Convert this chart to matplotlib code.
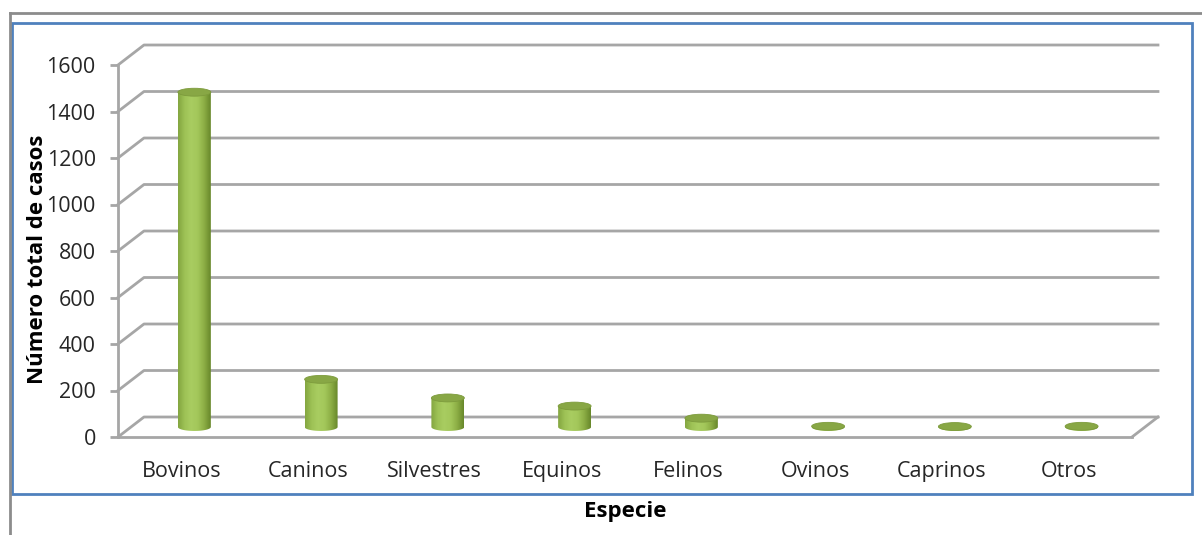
import matplotlib
matplotlib.use('Agg')
import matplotlib.pyplot as plt
import numpy as np
from matplotlib.colors import LinearSegmentedColormap
from matplotlib.lines import Line2D
from matplotlib.patches import Ellipse, PathPatch, Rectangle
from matplotlib.path import Path

plt.rcParams['font.family'] = ['Open Sans', 'DejaVu Sans']

# cases per species
especies = ['Bovinos', 'Caninos', 'Silvestres', 'Equinos', 'Felinos',
            'Ovinos', 'Caprinos', 'Otros']
casos = [1440, 205, 125, 90, 38, 3, 2, 3]
y_ticks = [0, 200, 400, 600, 800, 1000, 1200, 1400, 1600]

# fake 3d depth of the chart box, in data units
depth_x = 0.205
depth_y = 86
cyl_w = 0.26
cyl_eh = 34

grid_col = '#a6a6a6'
green = LinearSegmentedColormap.from_list(
    'cyl', ['#84a640', '#9ec256', '#a9cd61', '#a3c75a', '#8cae45', '#68882b'])

fig = plt.figure(figsize=(12.02, 5.35), dpi=100)
W, H = 1202, 535

# chart and plot-area frames
fig.add_artist(Line2D([10 / W, 1], [1 - 13 / H, 1 - 13 / H],
                      color='#8c8c8c', lw=2))
fig.add_artist(Line2D([10 / W, 10 / W], [0, 1 - 13 / H],
                      color='#8c8c8c', lw=2))
fig.add_artist(Rectangle((12 / W, 1 - 494 / H), 1180 / W, 471 / H,
                         transform=fig.transFigure, fill=False,
                         ec='#4f81bd', lw=2))

ax = fig.add_axes([118 / W, 98 / H, 1014 / W, 372 / H])
ax.set_xlim(-0.5, len(especies) - 0.5)
ax.set_ylim(0, 1600)
ax.patch.set_visible(False)

# back wall gridlines with the diagonal going to the front axis
x0, x1 = -0.5, len(especies) - 0.5
for v in y_ticks:
    ax.plot([x0, x0 + depth_x, x1 + depth_x], [v, v + depth_y, v + depth_y],
            color=grid_col, lw=2, clip_on=False, zorder=1)
# floor right edge
ax.plot([x1, x1 + depth_x], [0, depth_y], color=grid_col, lw=2,
        clip_on=False, zorder=1)

for sp in ['top', 'right']:
    ax.spines[sp].set_visible(False)
for sp in ['left', 'bottom']:
    ax.spines[sp].set_color(grid_col)
    ax.spines[sp].set_linewidth(2)
    ax.spines[sp].set_zorder(2)

ax.set_yticks(y_ticks)
ax.set_yticklabels([str(v) for v in y_ticks])
ax.tick_params(axis='y', length=6, width=2, color=grid_col, pad=10,
               labelsize=15.5, labelcolor='#262626')
ax.set_xticks(range(len(especies)))
ax.set_xticklabels(especies)
ax.tick_params(axis='x', length=0, pad=17, labelsize=15.5,
               labelcolor='#262626')

# cylinders
grad = np.linspace(0, 1, 64).reshape(1, -1)
base = depth_y / 2
for i, v in enumerate(casos):
    xc = i + depth_x / 2
    xl, xr = xc - cyl_w / 2, xc + cyl_w / 2
    top = base + v
    th = np.linspace(np.pi, 2 * np.pi, 40)
    verts = [(xl, top)]
    verts += list(zip(xc + cyl_w / 2 * np.cos(th),
                      base + cyl_eh / 2 * np.sin(th)))
    verts += [(xr, top), (xl, top)]
    codes = [Path.MOVETO] + [Path.LINETO] * (len(verts) - 2) + [Path.CLOSEPOLY]
    body = PathPatch(Path(verts, codes), fc='none', ec='none',
                     transform=ax.transData)
    ax.add_patch(body)
    im = ax.imshow(grad, extent=[xl, xr, base - cyl_eh, top], cmap=green,
                   aspect='auto', zorder=3, interpolation='bilinear')
    im.set_clip_path(body)
    ax.add_patch(Ellipse((xc, top), cyl_w, cyl_eh, fc='#88a745',
                         ec='#7d9b3c', lw=0.6, zorder=4, clip_on=False))

ax.set_xlim(-0.5, len(especies) - 0.5)
ax.set_ylim(0, 1600)

fig.text(38 / W, 1 - 259 / H, 'Número total de casos', rotation=90,
         ha='center', va='center', fontsize=16, fontweight='bold')
fig.text(625 / W, 1 - 511 / H, 'Especie', ha='center', va='center',
         fontsize=16, fontweight='bold')

fig.savefig('out.png', dpi=100)
